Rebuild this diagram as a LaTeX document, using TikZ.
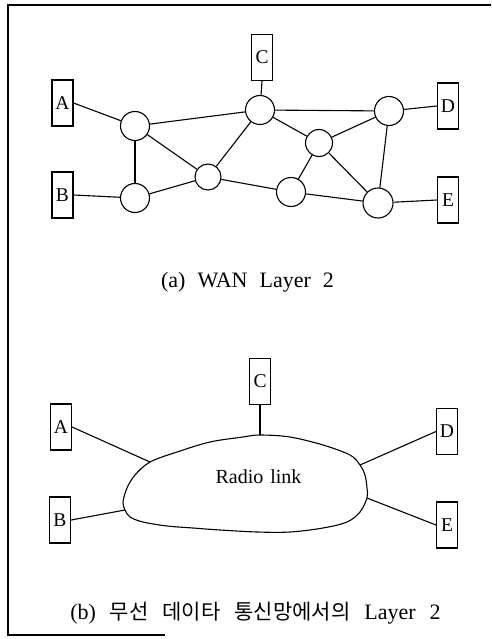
\documentclass[tikz,border=0pt]{standalone}
\usepackage{fontspec}
\setmainfont{Liberation Serif}
\newfontfamily\krfont{Noto Sans CJK KR}
\newcommand\wgap{\hspace{12pt}}
\newcommand\wgapb{\hspace{14pt}}
\newcommand\kr[1]{{\krfont\fontsize{21}{24}\selectfont #1}}
\begin{document}
\begin{tikzpicture}[x=1pt,y=-1pt,
  lw/.style={line width=1.1pt},
  term/.style={draw,lw,minimum width=21pt,minimum height=46pt,inner sep=0pt,
    font=\fontsize{19.5}{20}\selectfont},
  sw/.style={draw,lw,circle,inner sep=0pt,minimum size=#1},
  link/.style={lw}]
\useasboundingbox (0,0) rectangle (491,639);
% frame
\draw[line width=1.6pt] (491,5) -- (8,5) -- (8,635) -- (165,635);

% ---------- (a) ----------
\node[term] (A) at (62.5,103) {A};
\node[term] (B) at (62.5,195) {B};
\node[term] (C) at (262,57.5) {C};
\node[term] (D) at (448,106) {D};
\node[term] (E) at (448,200) {E};

\node[sw=29pt] (n1) at (135,126) {};
\node[sw=29pt] (n2) at (135,198) {};
\node[sw=26pt] (n3) at (208,177) {};
\node[sw=29pt] (n4) at (260,110) {};
\node[sw=27pt] (n5) at (319,143) {};
\node[sw=29pt] (n6) at (291,192) {};
\node[sw=29pt] (n7) at (389,111) {};
\node[sw=30pt] (n8) at (378,203) {};

\draw[link] (A.east) -- (n1);
\draw[link] (B.east) -- (n2);
\draw[link] (C.south) -- (n4);
\draw[link] (D.west) -- (n7);
\draw[link] (E.west) -- (n8);
\draw[link] (n1) -- (n4);
\draw[link] (n1) -- (n2);
\draw[link] (n1) -- (n3);
\draw[link] (n2) -- (n3);
\draw[link] (n3) -- (n4);
\draw[link] (n3) -- (n6);
\draw[link] (n4) -- (n7);
\draw[link] (n4) -- (n5);
\draw[link] (n5) -- (n7);
\draw[link] (n5) -- (n6);
\draw[link] (n5) -- (n8);
\draw[link] (n6) -- (n8);
\draw[link] (n7) -- (n8);

\node[font=\fontsize{22}{26}\selectfont] (capa) at (247.5,282) {(a)\wgap WAN\wgap Layer\wgap 2};

% ---------- (b) ----------
\node[term] (A2) at (61,427) {A};
\node[term] (B2) at (60,520) {B};
\node[term] (C2) at (260,381.5) {C};
\node[term] (D2) at (447,431.5) {D};
\node[term] (E2) at (447,525) {E};

\draw[lw] plot[smooth cycle,tension=0.55] coordinates {
  (123,502) (127,488) (135,475) (150,462) (177,452) (210,442) (243,437)
  (260,435) (290,437) (323,445) (350,455) (360,465) (365,475) (367,488)
  (367,498) (360,512) (347,522) (323,528) (290,532) (257,532) (220,530)
  (193,528) (167,526) (143,522) (130,517) (125,510)};
\coordinate (cA) at (150,462);
\coordinate (cB) at (125,510);
\coordinate (cC) at (260,435);
\coordinate (cD) at (360,465);
\coordinate (cE) at (367,498);
\node[font=\fontsize{20}{22}\selectfont] (radio) at (258.5,477) {Radio\hspace{7pt}link};

\draw[link] (A2.east) -- (cA);
\draw[link] (B2.east) -- (cB);
\draw[link] (C2.south) -- (cC);
\draw[link] (D2.west) -- (cD);
\draw[link] (E2.west) -- (cE);

\node[font=\fontsize{22}{26}\selectfont] (capb) at (255.5,613)
  {(b)\wgapb\kr{무선}\wgapb\kr{데이타}\wgapb\kr{통신망에서의}\wgapb Layer\wgapb 2};
\end{tikzpicture}
\end{document}
